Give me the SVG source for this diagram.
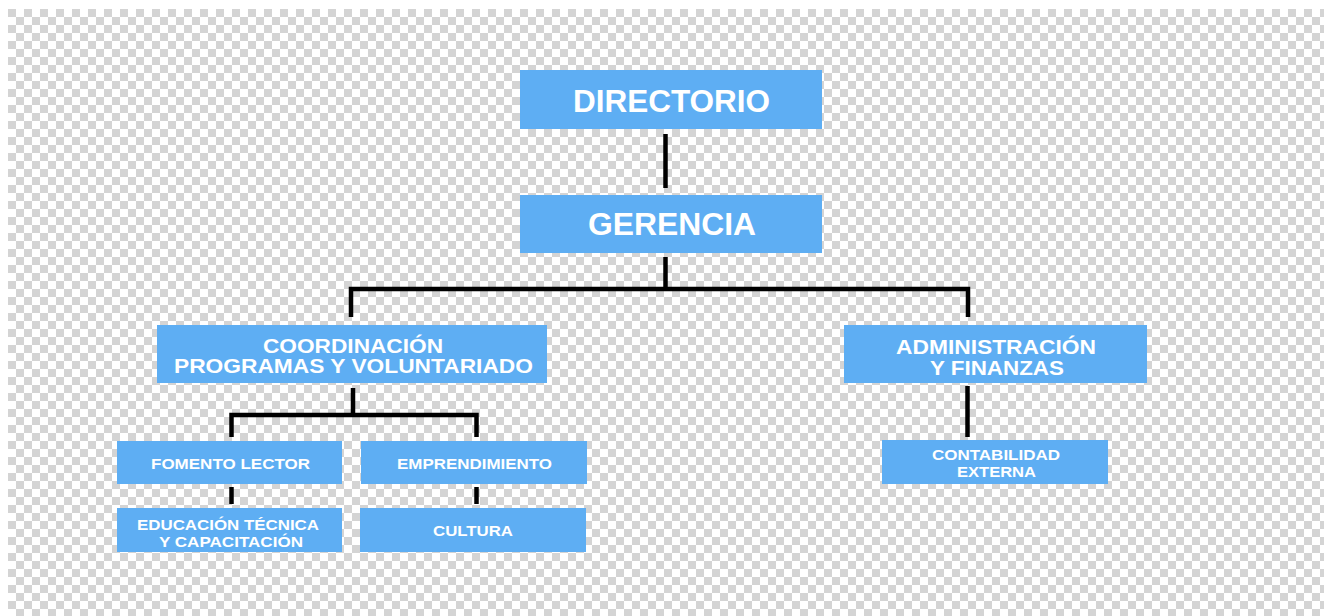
<svg xmlns="http://www.w3.org/2000/svg" width="1324" height="616" viewBox="0 0 1324 616">
<style>
.box{fill:#5eaef3}
.t{font-family:"Liberation Sans",Arial,sans-serif;font-weight:bold;fill:#ffffff;text-anchor:middle}
.big{font-size:31px}
.mid{font-size:19.5px}
.sm{font-size:15.5px}
.ln{stroke:#000000;stroke-width:4.5;fill:none;stroke-linejoin:miter;stroke-linecap:butt}
</style>
<defs>
<pattern id="chk" x="8" y="9" width="16" height="16" patternUnits="userSpaceOnUse">
<rect width="16" height="16" fill="#ffffff"/>
<rect width="8" height="8" fill="#d4d4d4"/>
<rect x="8" y="8" width="8" height="8" fill="#d4d4d4"/>
</pattern>
</defs>
<rect width="1324" height="616" fill="#ffffff"/>
<rect x="8" y="9" width="1316" height="607" fill="url(#chk)"/>
<g id="connectors">
<line class="ln" x1="665.5" y1="134" x2="665.5" y2="188"/>
<polyline class="ln" points="351,317 351,289 968,289 968,317"/>
<line class="ln" x1="665.5" y1="257" x2="665.5" y2="289"/>
<polyline class="ln" points="231.5,437 231.5,415 476.5,415 476.5,437"/>
<line class="ln" x1="353" y1="388" x2="353" y2="415"/>
<line class="ln" x1="231.5" y1="487" x2="231.5" y2="504"/>
<line class="ln" x1="476.5" y1="487" x2="476.5" y2="504"/>
<line class="ln" x1="967.5" y1="386" x2="967.5" y2="437"/>
</g>
<g id="directorio">
<rect class="box" x="520" y="70" width="302" height="59"/>
<text class="t big" x="671.5" y="112" textLength="197" lengthAdjust="spacingAndGlyphs">DIRECTORIO</text>
</g>
<g id="gerencia">
<rect class="box" x="520" y="195" width="302" height="58"/>
<text class="t big" x="672" y="235" textLength="168" lengthAdjust="spacingAndGlyphs">GERENCIA</text>
</g>
<g id="coordinacion">
<rect class="box" x="157" y="325" width="390" height="58"/>
<text class="t mid" x="353" y="353" textLength="180" lengthAdjust="spacingAndGlyphs">COORDINACIÓN</text>
<text class="t mid" x="353.5" y="373" textLength="359" lengthAdjust="spacingAndGlyphs">PROGRAMAS Y VOLUNTARIADO</text>
</g>
<g id="administracion">
<rect class="box" x="844" y="325" width="303" height="58"/>
<text class="t mid" x="996" y="354" textLength="200" lengthAdjust="spacingAndGlyphs">ADMINISTRACIÓN</text>
<text class="t mid" x="997" y="375" textLength="134" lengthAdjust="spacingAndGlyphs">Y FINANZAS</text>
</g>
<g id="fomento">
<rect class="box" x="117" y="441" width="225" height="43"/>
<text class="t sm" x="230.5" y="469" textLength="159" lengthAdjust="spacingAndGlyphs">FOMENTO LECTOR</text>
</g>
<g id="emprendimiento">
<rect class="box" x="361" y="441" width="226" height="43"/>
<text class="t sm" x="474.5" y="469" textLength="155" lengthAdjust="spacingAndGlyphs">EMPRENDIMIENTO</text>
</g>
<g id="educacion">
<rect class="box" x="117" y="508" width="225" height="44"/>
<text class="t sm" x="228" y="530" textLength="182" lengthAdjust="spacingAndGlyphs">EDUCACIÓN TÉCNICA</text>
<text class="t sm" x="231" y="547" textLength="144" lengthAdjust="spacingAndGlyphs">Y CAPACITACIÓN</text>
</g>
<g id="cultura">
<rect class="box" x="360" y="508" width="226" height="44"/>
<text class="t sm" x="473" y="536" textLength="80" lengthAdjust="spacingAndGlyphs">CULTURA</text>
</g>
<g id="contabilidad">
<rect class="box" x="882" y="440" width="226" height="44"/>
<text class="t sm" x="996" y="460" textLength="128" lengthAdjust="spacingAndGlyphs">CONTABILIDAD</text>
<text class="t sm" x="996.5" y="477" textLength="79" lengthAdjust="spacingAndGlyphs">EXTERNA</text>
</g>
</svg>
